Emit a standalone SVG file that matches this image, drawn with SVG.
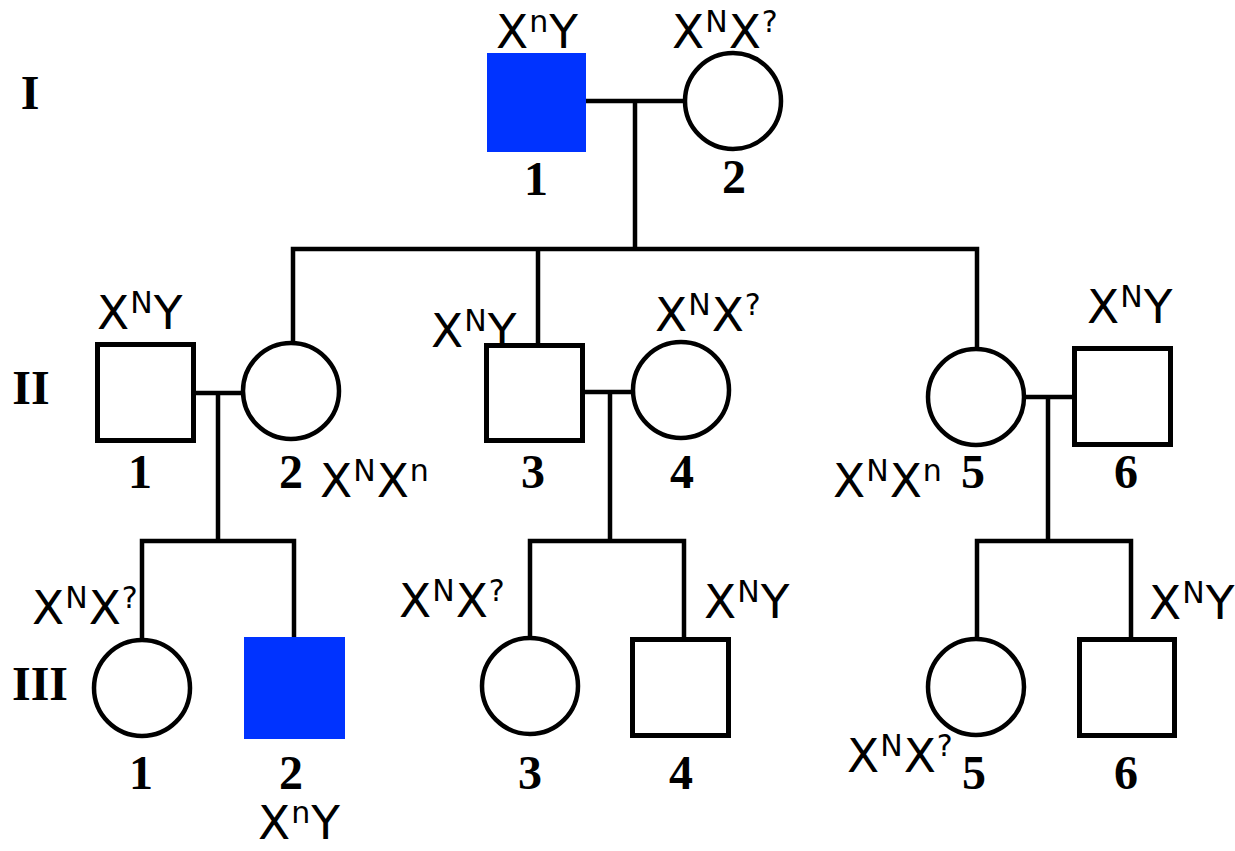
<svg xmlns="http://www.w3.org/2000/svg" width="1235" height="851" viewBox="0 0 1235 851">
<style>
.bg{fill:#fff}
.line{stroke:#000;stroke-width:4.5;fill:none;stroke-linecap:square}
.m{fill:#fff;stroke:#000;stroke-width:5}
.ma{fill:#0033ff;stroke:none}
.f{fill:#fff;stroke:#000;stroke-width:4.5}
.num{font-family:"Liberation Serif","Times New Roman",serif;font-weight:bold;font-size:48px;text-anchor:middle;fill:#000}
.gen{font-family:"Liberation Serif","Times New Roman",serif;font-weight:bold;font-size:48px;text-anchor:middle;fill:#000}
.g{font-family:"DejaVu Sans","Liberation Sans",sans-serif;font-size:47px;letter-spacing:1px;fill:#000}
.s{font-size:30px}
</style>
<rect class="bg" x="0" y="0" width="1235" height="851"/>

<g id="generations">
<text class="gen" x="30" y="109">I</text>
<text class="gen" x="31" y="404">II</text>
<text class="gen" x="40" y="700">III</text>
</g>

<g id="connectors">
<path class="line" d="M586 101H683M635 101V249M293 249H977M293 249V343M538 249V345M977 249V349"/>
<path class="line" d="M196 393H243M218 393V541M142 541H294M142 541V640M294 541V638"/>
<path class="line" d="M585 392H633M610 392V541M530 541H684M530 541V638M684 541V639"/>
<path class="line" d="M1024 397H1073M1048 397V541M977 541H1131M977 541V639M1131 541V639"/>
</g>

<g id="I-1"><rect class="ma" x="487" y="53" width="99" height="99"/><text class="num" x="536" y="195">1</text><text class="g" x="496" y="48">X<tspan class="s" dy="-16">n</tspan><tspan dy="16">Y</tspan></text></g>
<g id="I-2"><circle class="f" cx="733" cy="101" r="48"/><text class="num" x="734" y="193">2</text><text class="g" x="672" y="48">X<tspan class="s" dy="-16">N</tspan><tspan dy="16">X</tspan><tspan class="s" dy="-16">?</tspan></text></g>

<g id="II-1"><rect class="m" x="97.5" y="344.5" width="96" height="96"/><text class="num" x="140" y="488">1</text><text class="g" x="97" y="329">X<tspan class="s" dy="-16">N</tspan><tspan dy="16">Y</tspan></text></g>
<g id="II-2"><circle class="f" cx="291" cy="391" r="48"/><text class="num" x="291" y="488">2</text><text class="g" x="320" y="497">X<tspan class="s" dy="-16">N</tspan><tspan dy="16">X</tspan><tspan class="s" dy="-16">n</tspan></text></g>
<g id="II-3"><rect class="m" x="486.5" y="345.5" width="96" height="95"/><text class="num" x="533" y="488">3</text><text class="g" x="431" y="347">X<tspan class="s" dy="-16">N</tspan><tspan dy="16">Y</tspan></text></g>
<g id="II-4"><circle class="f" cx="681" cy="390" r="48"/><text class="num" x="682" y="488">4</text><text class="g" x="655" y="331">X<tspan class="s" dy="-16">N</tspan><tspan dy="16">X</tspan><tspan class="s" dy="-16">?</tspan></text></g>
<g id="II-5"><circle class="f" cx="976" cy="397" r="48"/><text class="num" x="973" y="488">5</text><text class="g" x="833" y="497">X<tspan class="s" dy="-16">N</tspan><tspan dy="16">X</tspan><tspan class="s" dy="-16">n</tspan></text></g>
<g id="II-6"><rect class="m" x="1074.5" y="348.5" width="96" height="96"/><text class="num" x="1126" y="488">6</text><text class="g" x="1087" y="323">X<tspan class="s" dy="-16">N</tspan><tspan dy="16">Y</tspan></text></g>

<g id="III-1"><circle class="f" cx="142" cy="688" r="48"/><text class="num" x="141" y="789">1</text><text class="g" x="32" y="624">X<tspan class="s" dy="-16">N</tspan><tspan dy="16">X</tspan><tspan class="s" dy="-16">?</tspan></text></g>
<g id="III-2"><rect class="ma" x="244" y="637" width="101" height="102"/><text class="num" x="291" y="789">2</text><text class="g" x="258" y="839">X<tspan class="s" dy="-16">n</tspan><tspan dy="16">Y</tspan></text></g>
<g id="III-3"><circle class="f" cx="530" cy="686" r="48"/><text class="num" x="530" y="789">3</text><text class="g" x="399" y="617">X<tspan class="s" dy="-16">N</tspan><tspan dy="16">X</tspan><tspan class="s" dy="-16">?</tspan></text></g>
<g id="III-4"><rect class="m" x="632.5" y="639.5" width="96" height="96"/><text class="num" x="681" y="789">4</text><text class="g" x="704" y="618">X<tspan class="s" dy="-16">N</tspan><tspan dy="16">Y</tspan></text></g>
<g id="III-5"><circle class="f" cx="976" cy="687" r="48"/><text class="num" x="974" y="789">5</text><text class="g" x="847" y="772">X<tspan class="s" dy="-16">N</tspan><tspan dy="16">X</tspan><tspan class="s" dy="-16">?</tspan></text></g>
<g id="III-6"><rect class="m" x="1079.5" y="639.5" width="95" height="96"/><text class="num" x="1126" y="789">6</text><text class="g" x="1149" y="619">X<tspan class="s" dy="-16">N</tspan><tspan dy="16">Y</tspan></text></g>
</svg>
